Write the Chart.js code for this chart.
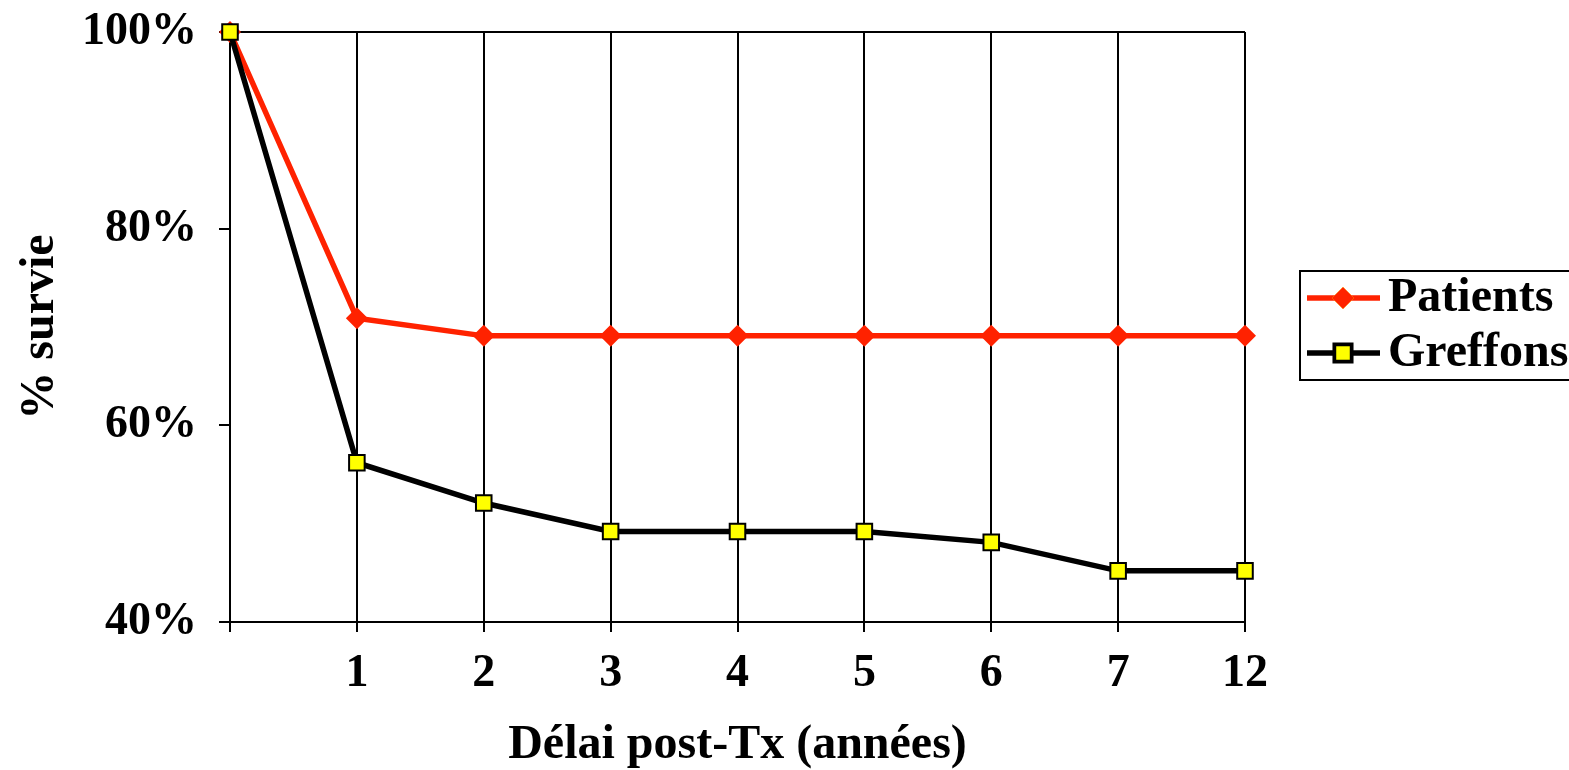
<!DOCTYPE html>
<html>
<head>
<meta charset="utf-8">
<script src="https://cdn.jsdelivr.net/npm/chart.js@4"></script>
<style>
  html, body { margin: 0; padding: 0; background: #fff; }
</style>
</head>
<body>
<canvas id="survie" width="1569" height="770"></canvas>
<script>
// tick labels for the x axis (first point has no label)
var annees = ["", "1", "2", "3", "4", "5", "6", "7", "12"];
// survival in %
var patients = [100, 70.9, 69.1, 69.1, 69.1, 69.1, 69.1, 69.1, 69.1];
var greffons = [100, 56.2, 52.1, 49.2, 49.2, 49.2, 48.1, 45.2, 45.2];
var yTicks = [40, 60, 80, 100];

var serif = "'Liberation Serif', 'Times New Roman', serif";

// legend with a frame, line + marker like the original
var boxLegend = {
  id: "boxLegend",
  afterDraw: function(chart) {
    var ctx = chart.ctx;
    var sets = chart.data.datasets;
    ctx.save();
    ctx.strokeStyle = "#000";
    ctx.lineWidth = 2;
    ctx.strokeRect(1300, 271, 290, 109);
    for (var i = 0; i < sets.length; i++) {
      var y = 298 + i * 55;
      ctx.strokeStyle = sets[i].borderColor;
      ctx.lineWidth = sets[i].borderWidth;
      ctx.beginPath();
      ctx.moveTo(1307, y);
      ctx.lineTo(1380, y);
      ctx.stroke();
      Chart.helpers.drawPoint(ctx, {
        pointStyle: sets[i].pointStyle,
        radius: sets[i].pointRadius,
        borderWidth: sets[i].pointBorderWidth
      }, 1343, y);
      ctx.fillStyle = sets[i].pointBackgroundColor;
      ctx.strokeStyle = sets[i].pointBorderColor;
      ctx.lineWidth = sets[i].pointBorderWidth;
      ctx.fill();
      if (sets[i].pointBorderWidth > 0) ctx.stroke();
      ctx.fillStyle = "#000";
      ctx.font = "bold 48px " + serif;
      ctx.textBaseline = "middle";
      ctx.textAlign = "left";
      ctx.fillText(sets[i].label, 1388, y + 1);
    }
    ctx.restore();
  }
};

var chart = new Chart(document.getElementById("survie"), {
  type: "line",
  data: {
    labels: annees,
    datasets: [
      {
        label: "Patients",
        data: patients,
        borderColor: "#ff2200",
        borderWidth: 5.5,
        pointStyle: "rectRot",
        pointRadius: 11,
        pointBorderWidth: 0,
        pointBackgroundColor: "#ff2200",
        pointBorderColor: "#ff2200",
        clip: false,
        order: 1
      },
      {
        label: "Greffons",
        data: greffons,
        borderColor: "#000",
        borderWidth: 5.5,
        pointStyle: "rect",
        pointRadius: 11,
        pointBorderWidth: 2,
        pointBackgroundColor: "#ffff00",
        pointBorderColor: "#000",
        clip: false,
        order: 0
      }
    ]
  },
  options: {
    responsive: false,
    animation: false,
    layout: { padding: { left: 8, right: 324, top: 32, bottom: 0 } },
    plugins: {
      legend: { display: false },
      tooltip: { enabled: false }
    },
    scales: {
      x: {
        offset: false,
        grid: { color: "#000", lineWidth: 2, tickLength: 10, tickColor: "#000" },
        border: { color: "#000", width: 2 },
        ticks: {
          color: "#000",
          padding: 15,
          maxRotation: 0,
          font: { family: serif, size: 46, weight: "bold" }
        },
        title: {
          display: true,
          text: "Délai post-Tx (années)",
          color: "#000",
          padding: { top: 0, bottom: 0 },
          font: { family: serif, size: 48, weight: "bold", lineHeight: 1 }
        },
        afterFit: function(s) { s.height = 148; }
      },
      y: {
        min: 40,
        max: 100,
        afterBuildTicks: function(s) {
          s.ticks = yTicks.map(function(v) { return { value: v }; });
        },
        grid: {
          lineWidth: 2,
          tickLength: 11,
          tickColor: "#000",
          color: function(c) { return c.tick && c.tick.value === 100 ? "#000" : "rgba(0,0,0,0)"; }
        },
        border: { color: "#000", width: 2 },
        ticks: {
          color: "#000",
          padding: 22,
          callback: function(v) { return v + "%"; },
          font: { family: serif, size: 46, weight: "bold" }
        },
        title: {
          display: true,
          text: "% survie",
          color: "#000",
          padding: { top: 4, bottom: 0 },
          font: { family: serif, size: 48, weight: "bold" }
        },
        afterFit: function(s) {
          s.width = 222;
          s.paddingTop = 0;
          s.paddingBottom = 0;
        }
      }
    }
  },
  plugins: [boxLegend]
});
</script>
</body>
</html>
